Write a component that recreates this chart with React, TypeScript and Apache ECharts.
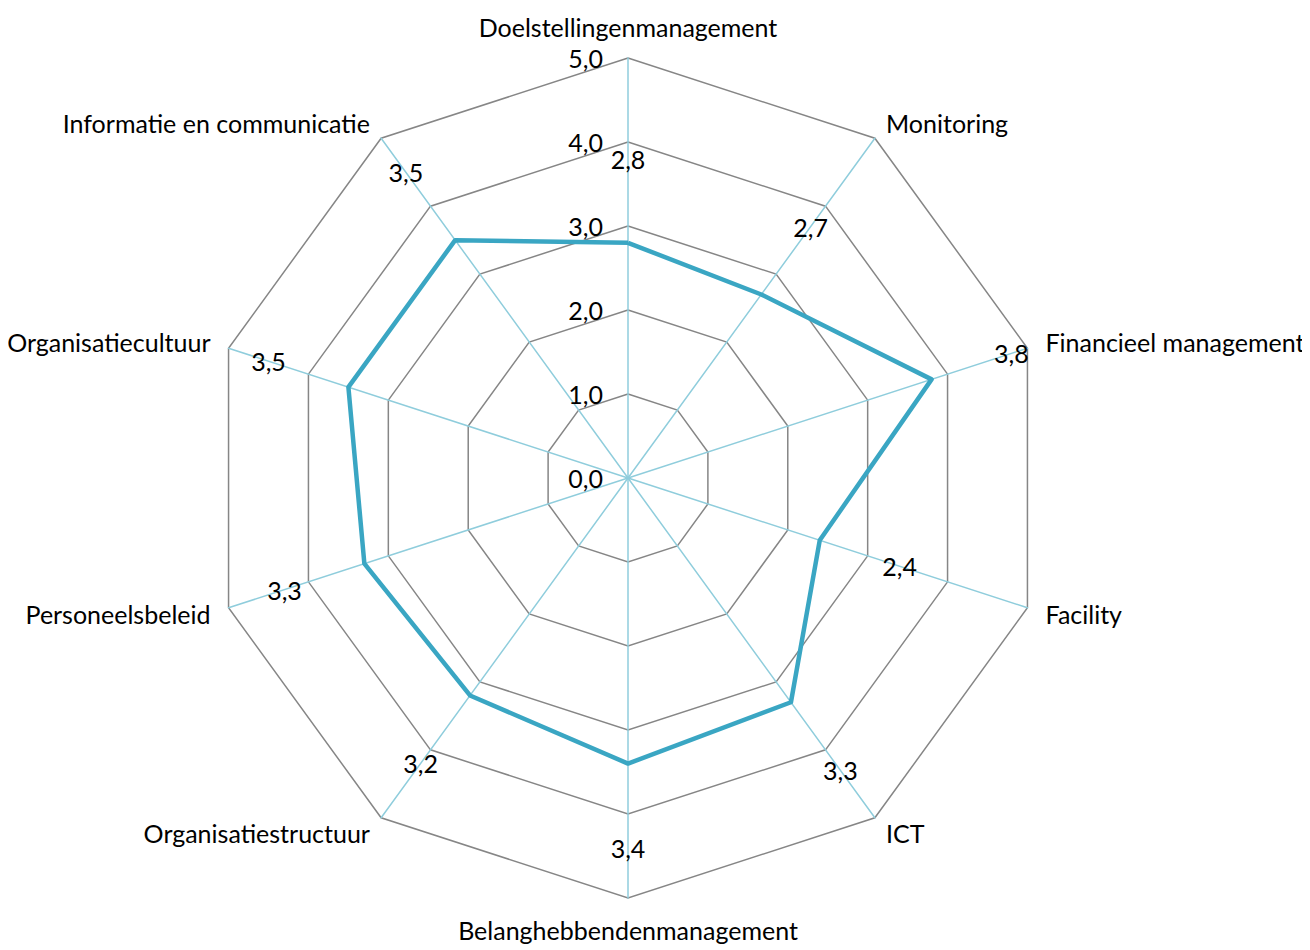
import React, { useEffect, useRef } from "react";
import * as echarts from "echarts";

// Categories in clockwise order starting at the top
const categories = [
  "Doelstellingenmanagement",
  "Monitoring",
  "Financieel management",
  "Facility",
  "ICT",
  "Belanghebbendenmanagement",
  "Organisatiestructuur",
  "Personeelsbeleid",
  "Organisatiecultuur",
  "Informatie en communicatie",
];
const scores = [2.8, 2.7, 3.8, 2.4, 3.3, 3.4, 3.2, 3.3, 3.5, 3.5];
const axisMin = 0;
const axisMax = 5;
const axisStep = 1;
const labelOffset = 1.0; // data labels sit one unit outside the point

const FONT = "Lato, 'Open Sans', sans-serif";
const FS = 25;
const fmt = (v: number) => v.toFixed(1).replace(".", ",");

export default function App() {
  const ref = useRef<HTMLDivElement>(null);
  useEffect(() => {
    if (!ref.current) return;
    const chart = echarts.init(ref.current, undefined, { renderer: "svg" });
    // ECharts radar runs counter-clockwise; reorder so the picture runs clockwise
    const order = [0, ...categories.map((_, i) => i).slice(1).reverse()];
    const indicator = order.map((i, k) => ({
      name: categories[i],
      min: axisMin,
      max: axisMax,
      ...(k === 0
        ? {
            axisLabel: {
              show: true,
              margin: 25,
              fontSize: FS,
              color: "#000",
              fontFamily: FONT,
              formatter: (v: number) => fmt(v),
            },
          }
        : {}),
    }));
    const vals = order.map((i) => scores[i]);
    const labelVals = order.map((i) => scores[i] + labelOffset);
    chart.setOption({
      animation: false,
      backgroundColor: "#fff",
      radar: {
        center: [620, 470],
        radius: 420,
        startAngle: 90,
        splitNumber: (axisMax - axisMin) / axisStep,
        shape: "polygon",
        indicator,
        nameGap: 19,
        axisName: { color: "#000", fontSize: FS, fontFamily: FONT },
        axisLine: { lineStyle: { color: "#8fcddc", width: 1.5 } },
        splitLine: { lineStyle: { color: "#868686", width: 1.5 } },
        splitArea: { show: false },
        axisTick: { show: false },
        axisLabel: { show: false },
      },
      series: [
        {
          type: "radar",
          symbol: "none",
          z: 3,
          lineStyle: { color: "#3aa6c3", width: 4.5 },
          data: [{ value: vals, name: "Score" }],
        },
        {
          type: "radar",
          symbol: "circle",
          symbolSize: 1,
          z: 4,
          lineStyle: { width: 0, opacity: 0 },
          itemStyle: { color: "rgba(0,0,0,0)" },
          label: {
            show: true,
            position: "inside",
            fontSize: FS,
            color: "#000",
            fontFamily: FONT,
            formatter: (p: any) => fmt(Number(p.value) - labelOffset),
          },
          data: [{ value: labelVals, name: "Labels" }],
        },
      ],
    });
    return () => chart.dispose();
  }, []);
  return <div ref={ref} style={{ width: 1302, height: 942 }} />;
}
